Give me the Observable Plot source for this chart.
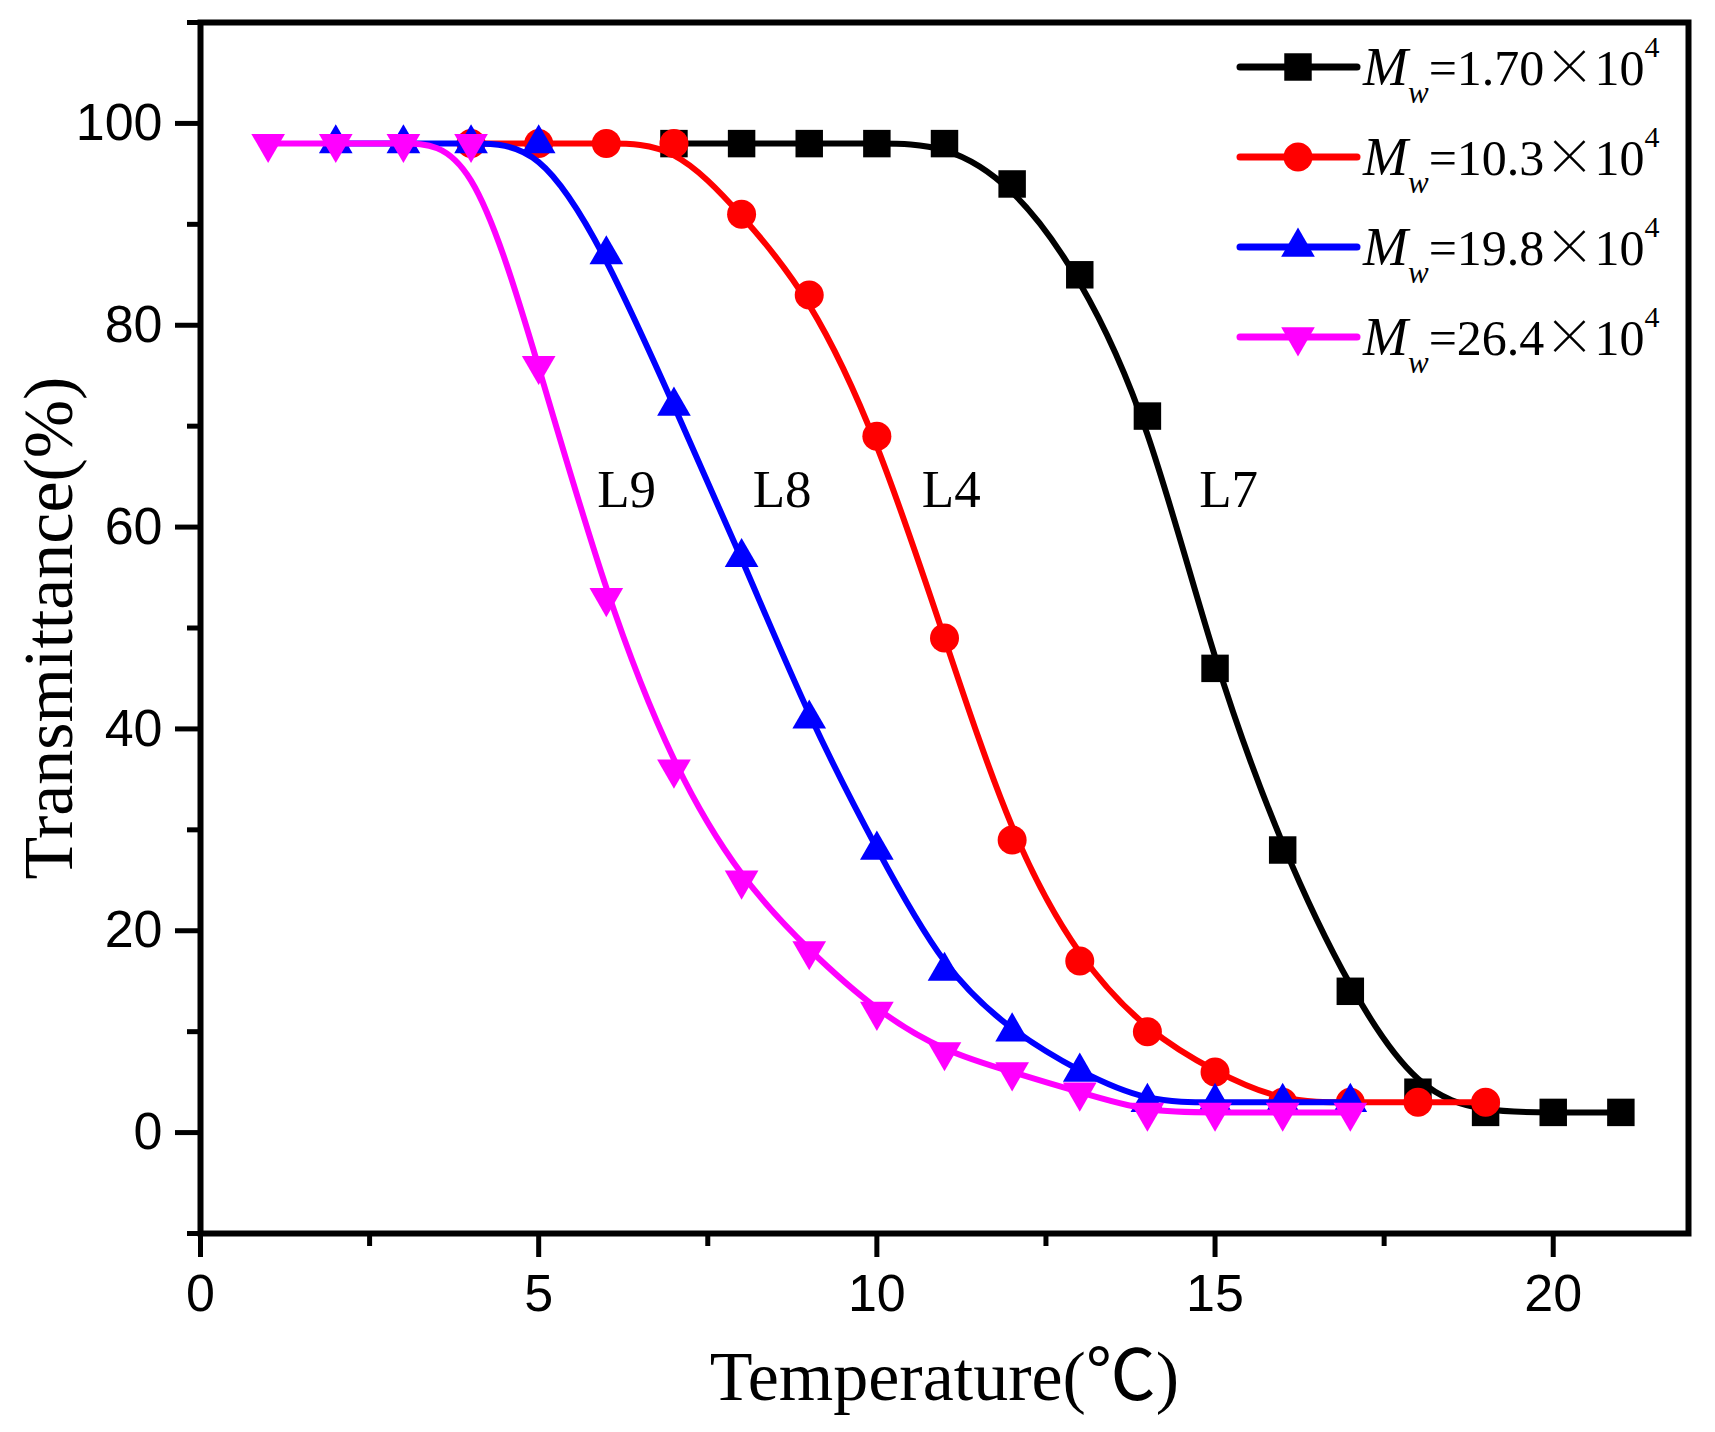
<!DOCTYPE html>
<html>
<head>
<meta charset="utf-8">
<script src="https://cdn.jsdelivr.net/npm/d3@7"></script>
<script src="https://cdn.jsdelivr.net/npm/@observablehq/plot@0.6"></script>
<style>
  body { margin: 0; background: #fff; }
  #chart svg { display: block; }
</style>
</head>
<body>
<div id="chart"></div>
<script>
// Transmittance (%) vs temperature (°C) for four molecular weights
const tempL7 = [7, 8, 9, 10, 11, 12, 13, 14, 15, 16, 17, 18, 19, 20, 21];
const transL7 = [98, 98, 98, 98, 98, 94, 85, 71, 46, 28, 14, 4, 2, 2, 2];

const tempL4 = [4, 5, 6, 7, 8, 9, 10, 11, 12, 13, 14, 15, 16, 17, 18, 19];
const transL4 = [98, 98, 98, 98, 91, 83, 69, 49, 29, 17, 10, 6, 3, 3, 3, 3];

const tempL8 = [2, 3, 4, 5, 6, 7, 8, 9, 10, 11, 12, 13, 14, 15, 16, 17];
const transL8 = [98, 98, 98, 98, 87, 72, 57, 41, 28, 16, 10, 6, 3, 3, 3, 3];

const tempL9 = [1, 2, 3, 4, 5, 6, 7, 8, 9, 10, 11, 12, 13, 14, 15, 16, 17];
const transL9 = [98, 98, 98, 98, 76, 53, 36, 25, 18, 12, 8, 6, 4, 2, 2, 2, 2];

const mwValues = ["1.70", "10.3", "19.8", "26.4"];
const seriesColors = ["#000000", "#ff0000", "#0000ff", "#ff00ff"];

const curveText = ["L9", "L8", "L4", "L7"];
const curveTextX = [6.3, 8.6, 11.1, 15.2];
const curveTextY = [62, 62, 62, 62];

const xMajor = [0, 5, 10, 15, 20];
const xMinor = [2.5, 7.5, 12.5, 17.5];
const yMajor = [0, 20, 40, 60, 80, 100];
const yMinor = [-10, 10, 30, 50, 70, 90, 110];

// down-pointing triangle, same geometry as d3.symbolTriangle flipped
const triangleDown = {
  draw(context, size) {
    const y = Math.sqrt(size / (Math.sqrt(3) * 3));
    context.moveTo(0, y * 2);
    context.lineTo(-Math.sqrt(3) * y, -y);
    context.lineTo(Math.sqrt(3) * y, -y);
    context.closePath();
  }
};

const series = [
  {x: tempL7, y: transL7, symbol: "square", r: 15.5},
  {x: tempL4, y: transL4, symbol: "circle", r: 14.5},
  {x: tempL8, y: transL8, symbol: "triangle", r: 12.5},
  {x: tempL9, y: transL9, symbol: triangleDown, r: 12.5}
];

const sans = "'Liberation Sans', Arial, sans-serif";
const serif = "'Liberation Serif', 'Times New Roman', 'Noto Sans CJK SC', serif";

const seriesMarks = series.flatMap((s, i) => [
  Plot.line(s.x, {x: s.x, y: s.y, curve: "basis", stroke: seriesColors[i], strokeWidth: 6}),
  Plot.dot(s.x, {x: s.x, y: s.y, symbol: s.symbol, r: s.r, fill: seriesColors[i], stroke: "none"})
]);

const plot = Plot.plot({
  width: 1715,
  height: 1432,
  marginLeft: 200,
  marginRight: 27,
  marginTop: 22,
  marginBottom: 199,
  style: {fontFamily: sans, background: "#fff"},
  x: {domain: [0, 22]},
  y: {domain: [-10, 110]},
  marks: [
    Plot.axisX({ticks: xMinor, tickSize: 13, strokeWidth: 5, text: null, label: null}),
    Plot.axisY({ticks: yMinor, tickSize: 13, strokeWidth: 5, text: null, label: null}),
    Plot.axisX({ticks: xMajor, tickSize: 24, tickPadding: 17, strokeWidth: 5, fontSize: 52, fontFamily: sans, label: null}),
    Plot.axisY({ticks: yMajor, tickSize: 25, tickPadding: 13, strokeWidth: 5, fontSize: 52, fontFamily: sans, label: null}),
    ...seriesMarks,
    Plot.text(curveText, {x: curveTextX, y: curveTextY, text: curveText, fontSize: 53, fontFamily: serif, lineAnchor: "bottom", fill: "#000"}),
    Plot.text(["Temperature(℃)"], {frameAnchor: "bottom", text: (d) => d, dy: 166, lineAnchor: "bottom", fontSize: 70, fontFamily: serif, fill: "#000"}),
    Plot.text(["Transmittance(%)"], {frameAnchor: "left", text: (d) => d, dx: -129, rotate: -90, textAnchor: "middle", lineAnchor: "bottom", fontSize: 70, fontFamily: serif, fill: "#000"}),
    Plot.frame({stroke: "#000", strokeWidth: 6})
  ]
});

// legend in the top right corner of the frame
const svg = d3.select(plot);
const legend = svg.append("g").attr("text-anchor", "start");
mwValues.forEach((v, i) => {
  const y = 67 + i * 90;
  const row = legend.append("g");
  row.append("line")
    .attr("x1", 1240).attr("x2", 1357).attr("y1", y).attr("y2", y)
    .attr("stroke", seriesColors[i]).attr("stroke-width", 7).attr("stroke-linecap", "round");
  const sym = series[i].symbol;
  const type = typeof sym === "string"
    ? {square: d3.symbolSquare, circle: d3.symbolCircle, triangle: d3.symbolTriangle}[sym]
    : sym;
  row.append("path")
    .attr("transform", `translate(1298,${y})`)
    .attr("d", d3.symbol(type, Math.PI * series[i].r ** 2)())
    .attr("fill", seriesColors[i]);
  const t = row.append("text")
    .attr("x", 1363).attr("y", y + 18)
    .attr("text-anchor", "start")
    .attr("font-family", serif).attr("font-size", 54).attr("fill", "#000");
  t.append("tspan").attr("font-style", "italic").text("M");
  t.append("tspan").attr("font-style", "italic").attr("font-size", 31).attr("dy", 18).text("w");
  t.append("tspan").attr("dy", -18).attr("font-size", 50).text("=" + v);
  t.append("tspan").attr("font-size", 50).attr("font-family", "'Noto Sans CJK SC'").attr("font-weight", 300).text("×");
  t.append("tspan").attr("font-size", 50).text("10");
  t.append("tspan").attr("font-size", 30).attr("dy", -28).text("4");
});

document.querySelector("#chart").append(plot);
</script>
</body>
</html>
